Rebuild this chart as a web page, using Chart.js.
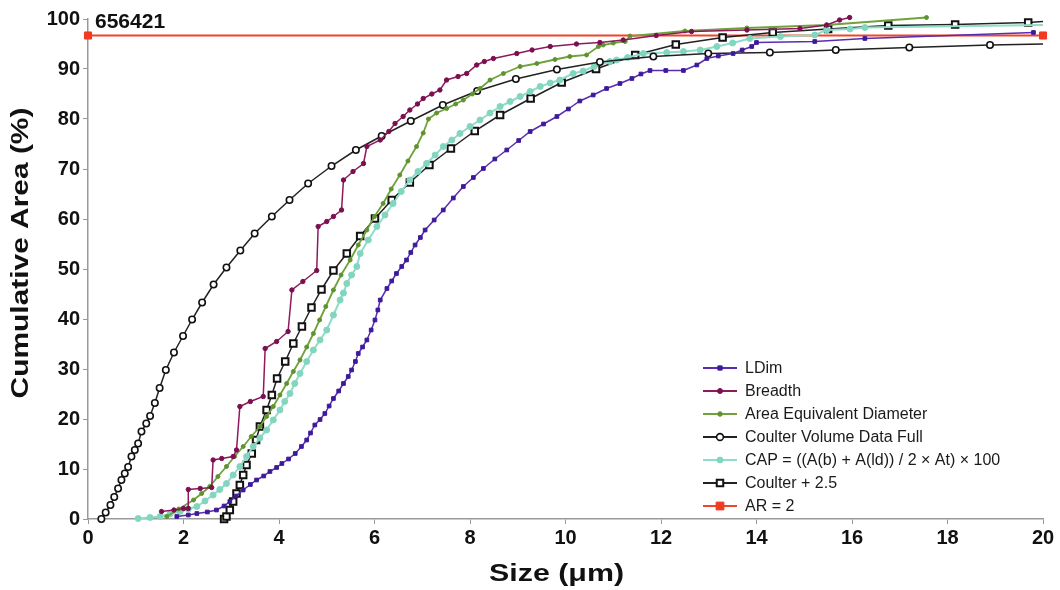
<!DOCTYPE html>
<html>
<head>
<meta charset="utf-8">
<script src="https://cdn.jsdelivr.net/npm/chart.js@4/dist/chart.umd.min.js"></script>
<style>
  html, body { margin: 0; padding: 0; background: #fff; }
  #wrap { width: 1060px; height: 590px; position: relative; }
</style>
</head>
<body>
<div id="wrap"><canvas id="cum-chart"></canvas></div>
<script>
// sample id shown in the corner
var sampleId = "656421";
var xTitle = "Size (μm)";
var yTitle = "Cumulative Area (%)";

// x ticks / y ticks
var xTicks = [0, 2, 4, 6, 8, 10, 12, 14, 16, 18, 20];
var yTicks = [0, 10, 20, 30, 40, 50, 60, 70, 80, 90, 100];

var ldimX = [1.86,2.1,2.28,2.5,2.69,2.85,2.97,3.1,3.25,3.4,3.53,3.68,3.81,3.95,4.06,4.2,4.34,4.47,4.58,4.66,4.75,4.86,4.96,5.05,5.14,5.25,5.35,5.45,5.52,5.6,5.66,5.75,5.84,5.93,6.01,6.07,6.12,6.26,6.36,6.46,6.57,6.67,6.76,6.85,6.96,7.06,7.25,7.44,7.65,7.86,8.07,8.28,8.52,8.77,9.02,9.26,9.54,9.82,10.06,10.3,10.58,10.86,11.14,11.39,11.58,11.77,12.1,12.47,12.75,12.96,13.2,13.51,13.7,13.9,14.0,15.22,16.27,19.8];
var ldimY = [0.5,0.8,1.1,1.4,1.8,2.6,3.5,4.6,5.8,6.9,7.8,8.6,9.5,10.3,11.1,12.0,13.1,14.5,15.8,17.2,18.8,19.9,21.1,22.6,24.1,25.6,27.1,28.5,29.8,31.5,33.1,34.4,35.8,37.8,39.8,41.8,43.8,46.1,47.6,49.1,50.5,51.8,53.3,54.8,56.3,57.8,59.8,61.8,64.2,66.5,68.3,70.1,72.0,73.8,75.7,77.5,79.0,80.5,82.0,83.6,84.8,86.1,87.1,88.1,89.0,89.7,89.7,89.7,90.8,92.1,92.6,93.1,93.8,94.5,95.3,95.5,96.1,97.3];

var breadthX = [1.54,1.8,2.0,2.1,2.1,2.35,2.59,2.62,2.8,3.04,3.11,3.18,3.4,3.67,3.71,3.95,4.19,4.27,4.5,4.79,4.82,5.0,5.14,5.31,5.35,5.55,5.77,5.84,6.12,6.3,6.43,6.6,6.74,6.9,7.02,7.2,7.37,7.51,7.75,7.93,8.14,8.3,8.49,8.98,9.3,9.68,10.23,10.72,11.21,11.9,12.64,13.8,14.91,15.47,15.74,15.95];
var breadthY = [1.5,1.8,2.1,2.1,5.9,6.1,6.3,11.8,12.1,12.5,13.8,22.5,23.5,24.5,34.1,35.5,37.5,45.8,47.5,49.7,58.5,59.5,60.5,61.8,67.8,69.5,71.1,74.5,75.8,77.5,79.1,80.5,81.8,83.0,84.1,85.0,85.8,87.8,88.5,89.1,90.8,91.5,92.1,93.1,93.8,94.5,95.0,95.3,95.8,96.7,97.5,97.8,98.1,98.8,99.8,100.3];

var aedX = [1.65,1.9,2.21,2.38,2.55,2.72,2.9,3.07,3.25,3.42,3.6,3.74,3.88,4.02,4.16,4.3,4.44,4.58,4.72,4.85,4.98,5.14,5.3,5.49,5.66,5.84,6.0,6.18,6.35,6.53,6.7,6.88,7.02,7.13,7.3,7.51,7.7,7.86,8.05,8.21,8.42,8.7,9.05,9.4,9.78,10.09,10.44,10.69,10.79,11.0,11.25,11.35,12.5,13.8,15.47,17.56];
var aedY = [0.5,2.0,3.8,5.1,6.5,8.5,10.5,12.5,14.5,16.5,18.5,20.5,22.5,24.8,27.1,29.5,31.8,34.4,37.1,39.8,42.5,45.8,48.8,51.8,54.8,57.8,60.5,63.1,66.0,68.8,71.6,74.5,77.2,80.0,81.2,82.1,83.0,83.8,85.0,86.1,87.8,89.1,90.5,91.1,91.9,92.5,92.8,94.5,94.8,95.2,95.5,96.6,97.6,98.2,98.8,100.3];

var coulterX = [0.28,0.37,0.47,0.55,0.63,0.7,0.77,0.84,0.91,0.98,1.05,1.12,1.22,1.3,1.4,1.5,1.63,1.8,1.99,2.18,2.39,2.63,2.9,3.19,3.49,3.85,4.22,4.61,5.1,5.61,6.15,6.76,7.43,8.15,8.96,9.82,10.72,11.84,12.99,14.28,15.66,17.2,18.89,20];
var coulterY = [0,1.3,2.8,4.4,6.1,7.8,9.1,10.4,12.5,13.8,15.1,17.5,19.1,20.6,23.2,26.2,29.8,33.3,36.6,39.9,43.3,46.9,50.3,53.7,57.1,60.5,63.8,67.1,70.6,73.8,76.6,79.6,82.8,85.6,88.0,89.9,91.4,92.5,93.1,93.3,93.8,94.3,94.8,95.0];

var capX = [1.05,1.3,1.51,1.72,1.93,2.1,2.28,2.45,2.62,2.76,2.9,3.04,3.18,3.32,3.46,3.6,3.74,3.88,4.02,4.12,4.23,4.33,4.44,4.58,4.72,4.86,5.0,5.14,5.28,5.35,5.42,5.52,5.63,5.7,5.87,6.05,6.22,6.39,6.56,6.74,6.91,7.09,7.27,7.44,7.62,7.79,8.0,8.21,8.42,8.63,8.84,9.05,9.26,9.47,9.68,9.88,10.16,10.37,10.6,10.93,11.07,11.3,11.63,12.12,12.47,12.82,13.17,13.5,13.86,14.5,15.22,15.47,15.96,16.27,20];
var capY = [0.1,0.3,0.5,1.0,1.5,2.0,2.5,3.6,4.8,5.9,7.1,8.8,10.5,12.5,14.5,16.2,17.8,19.8,21.8,23.5,25.1,27.1,29.1,31.5,33.8,35.8,37.8,40.8,43.8,45.2,47.1,48.8,50.5,53.1,55.8,58.5,60.8,63.1,65.5,67.8,69.5,71.1,72.8,74.5,75.8,77.1,78.5,79.8,81.2,82.5,83.5,84.5,85.5,86.5,87.2,87.8,89.1,89.6,90.5,91.5,91.8,92.3,93.1,93.3,93.5,93.8,94.5,95.2,96.1,96.5,96.8,97.8,98.0,98.3,98.8];

var coulter25X = [2.85,2.9,2.97,3.04,3.11,3.18,3.25,3.32,3.43,3.52,3.6,3.74,3.85,3.96,4.13,4.3,4.48,4.68,4.89,5.14,5.42,5.7,6.01,6.36,6.74,7.15,7.6,8.1,8.63,9.27,9.92,10.64,11.46,12.31,13.29,14.34,15.5,16.76,18.16,19.69,20];
var coulter25Y = [0,0.5,1.8,3.5,5.1,6.8,8.8,10.8,13.1,15.8,18.5,21.8,24.8,28.1,31.5,35.1,38.5,42.3,45.9,49.7,53.1,56.6,60.1,63.8,67.3,70.8,74.1,77.6,80.8,84.1,87.3,90.0,92.8,94.9,96.3,97.3,98.0,98.7,98.9,99.3,99.5];

var arX = [0, 20];
var arY = [96.7, 96.7];

function pts(xs, ys) {
  return xs.map(function (x, i) { return { x: x, y: ys[i] }; });
}
// no marker where a line runs out to the axis end
function noEndMarker(r) {
  return function (c) { return (c.raw && c.raw.x >= 20) ? 0 : r; };
}

var font = "'Liberation Sans', Arial, sans-serif";
Chart.defaults.font.family = font;
Chart.defaults.color = "#111";

// sample id in the corner + wide bold axis titles
var chartText = {
  id: "chartText",
  afterDraw: function (chart) {
    var ctx = chart.ctx, a = chart.chartArea;
    ctx.save();
    ctx.font = "bold 21px " + font;
    ctx.fillStyle = "#111";
    ctx.textBaseline = "middle";
    ctx.fillText(sampleId, a.left + 7, a.top + 3);

    ctx.font = "bold 23px " + font;
    ctx.textAlign = "center";
    ctx.save();
    ctx.translate((a.left + a.right) / 2 - 9, chart.height - 15);
    ctx.scale(1.32, 1);
    ctx.fillText(xTitle, 0, 0);
    ctx.restore();

    ctx.save();
    ctx.translate(22, (a.top + a.bottom) / 2 - 16);
    ctx.rotate(-Math.PI / 2);
    ctx.scale(1.3, 1);
    ctx.fillText(yTitle, 0, 0);
    ctx.restore();
    ctx.restore();
  }
};

// legend drawn inside the plot, lower right
var insideLegend = {
  id: "insideLegend",
  afterDraw: function (chart) {
    var ctx = chart.ctx, a = chart.chartArea;
    var x0 = a.right - 340, y0 = a.bottom - 151, rowH = 23;
    ctx.save();
    ctx.font = "16px " + font;
    ctx.textBaseline = "middle";
    chart.data.datasets.forEach(function (ds, i) {
      var y = y0 + i * rowH;
      ctx.strokeStyle = ds.borderColor;
      ctx.lineWidth = 1.8;
      ctx.beginPath();
      ctx.moveTo(x0, y);
      ctx.lineTo(x0 + 34, y);
      ctx.stroke();
      ctx.fillStyle = ds.pointBackgroundColor;
      ctx.strokeStyle = ds.pointBorderColor;
      ctx.lineWidth = ds.pointBorderWidth;
      Chart.helpers.drawPoint(ctx, {
        pointStyle: ds.pointStyle,
        radius: ds.legendRadius,
        rotation: 0,
        borderWidth: ds.pointBorderWidth
      }, x0 + 17, y);
      ctx.fillStyle = "#1a1a1a";
      ctx.fillText(ds.label, x0 + 42, y + 1);
    });
    ctx.restore();
  }
};

new Chart(document.getElementById("cum-chart"), {
  type: "line",
  data: {
    datasets: [{
        label: "LDim",
        data: pts(ldimX, ldimY),
        borderColor: "#5a2db0",
        borderWidth: 1.5,
        pointStyle: "rect",
        pointRadius: 2.6,
        legendRadius: 3,
        pointBackgroundColor: "#3d1a9a",
        pointBorderColor: "#3d1a9a",
        pointBorderWidth: 1
      }, {
        label: "Breadth",
        data: pts(breadthX, breadthY),
        borderColor: "#8e1a5c",
        borderWidth: 1.5,
        pointStyle: "circle",
        pointRadius: 2.2,
        legendRadius: 2.5,
        pointBackgroundColor: "#7a1050",
        pointBorderColor: "#7a1050",
        pointBorderWidth: 1
      }, {
        label: "Area Equivalent Diameter",
        data: pts(aedX, aedY),
        borderColor: "#6fa23a",
        borderWidth: 1.8,
        pointStyle: "circle",
        pointRadius: 2,
        legendRadius: 2.3,
        pointBackgroundColor: "#5e9430",
        pointBorderColor: "#5e9430",
        pointBorderWidth: 1
      }, {
        label: "Coulter Volume Data Full",
        data: pts(coulterX, coulterY),
        borderColor: "#222",
        borderWidth: 1.5,
        pointStyle: "circle",
        pointRadius: noEndMarker(3.2),
        legendRadius: 3.4,
        pointBackgroundColor: "#fff",
        pointBorderColor: "#111",
        pointBorderWidth: 1.6
      }, {
        label: "CAP = ((A(b) + A(ld)) / 2 × At) × 100",
        data: pts(capX, capY),
        borderColor: "#8fdcc8",
        borderWidth: 2,
        pointStyle: "circle",
        pointRadius: noEndMarker(3),
        legendRadius: 3,
        pointBackgroundColor: "#82d6c0",
        pointBorderColor: "#82d6c0",
        pointBorderWidth: 1
      }, {
        label: "Coulter + 2.5",
        data: pts(coulter25X, coulter25Y),
        borderColor: "#222",
        borderWidth: 1.5,
        pointStyle: "rect",
        pointRadius: noEndMarker(4.6),
        legendRadius: 4.6,
        pointBackgroundColor: "#fff",
        pointBorderColor: "#111",
        pointBorderWidth: 2
      }, {
        label: "AR = 2",
        data: pts(arX, arY),
        borderColor: "#f0442c",
        borderWidth: 2,
        pointStyle: "rect",
        pointRadius: 5,
        legendRadius: 5.5,
        pointBackgroundColor: "#f03a22",
        pointBorderColor: "#f03a22",
        pointBorderWidth: 1
      }
    ]
  },
  options: {
    responsive: true,
    maintainAspectRatio: false,
    animation: false,
    events: [],
    clip: false,
    layout: { padding: { top: 19, right: 17, left: 0, bottom: 0 } },
    plugins: {
      legend: { display: false },
      tooltip: { enabled: false }
    },
    scales: {
      x: {
        type: "linear",
        min: 0,
        max: 20,
        afterBuildTicks: function (s) { s.ticks = xTicks.map(function (v) { return { value: v }; }); },
        afterFit: function (s) { s.height = 71; },
        ticks: { color: "#111", font: { weight: "bold", size: 20 }, padding: 2, maxRotation: 0 },
        grid: { drawOnChartArea: false, drawTicks: true, tickLength: 5, color: "#999" },
        border: { color: "#999", width: 1.5 }
      },
      y: {
        type: "linear",
        min: 0,
        max: 100,
        afterBuildTicks: function (s) { s.ticks = yTicks.map(function (v) { return { value: v }; }); },
        afterFit: function (s) { s.width = 88; },
        ticks: { color: "#111", font: { weight: "bold", size: 20 }, padding: 3 },
        grid: { drawOnChartArea: false, drawTicks: true, tickLength: 5, color: "#999" },
        border: { color: "#999", width: 1.5 }
      }
    }
  },
  plugins: [chartText, insideLegend]
});
</script>
</body>
</html>
